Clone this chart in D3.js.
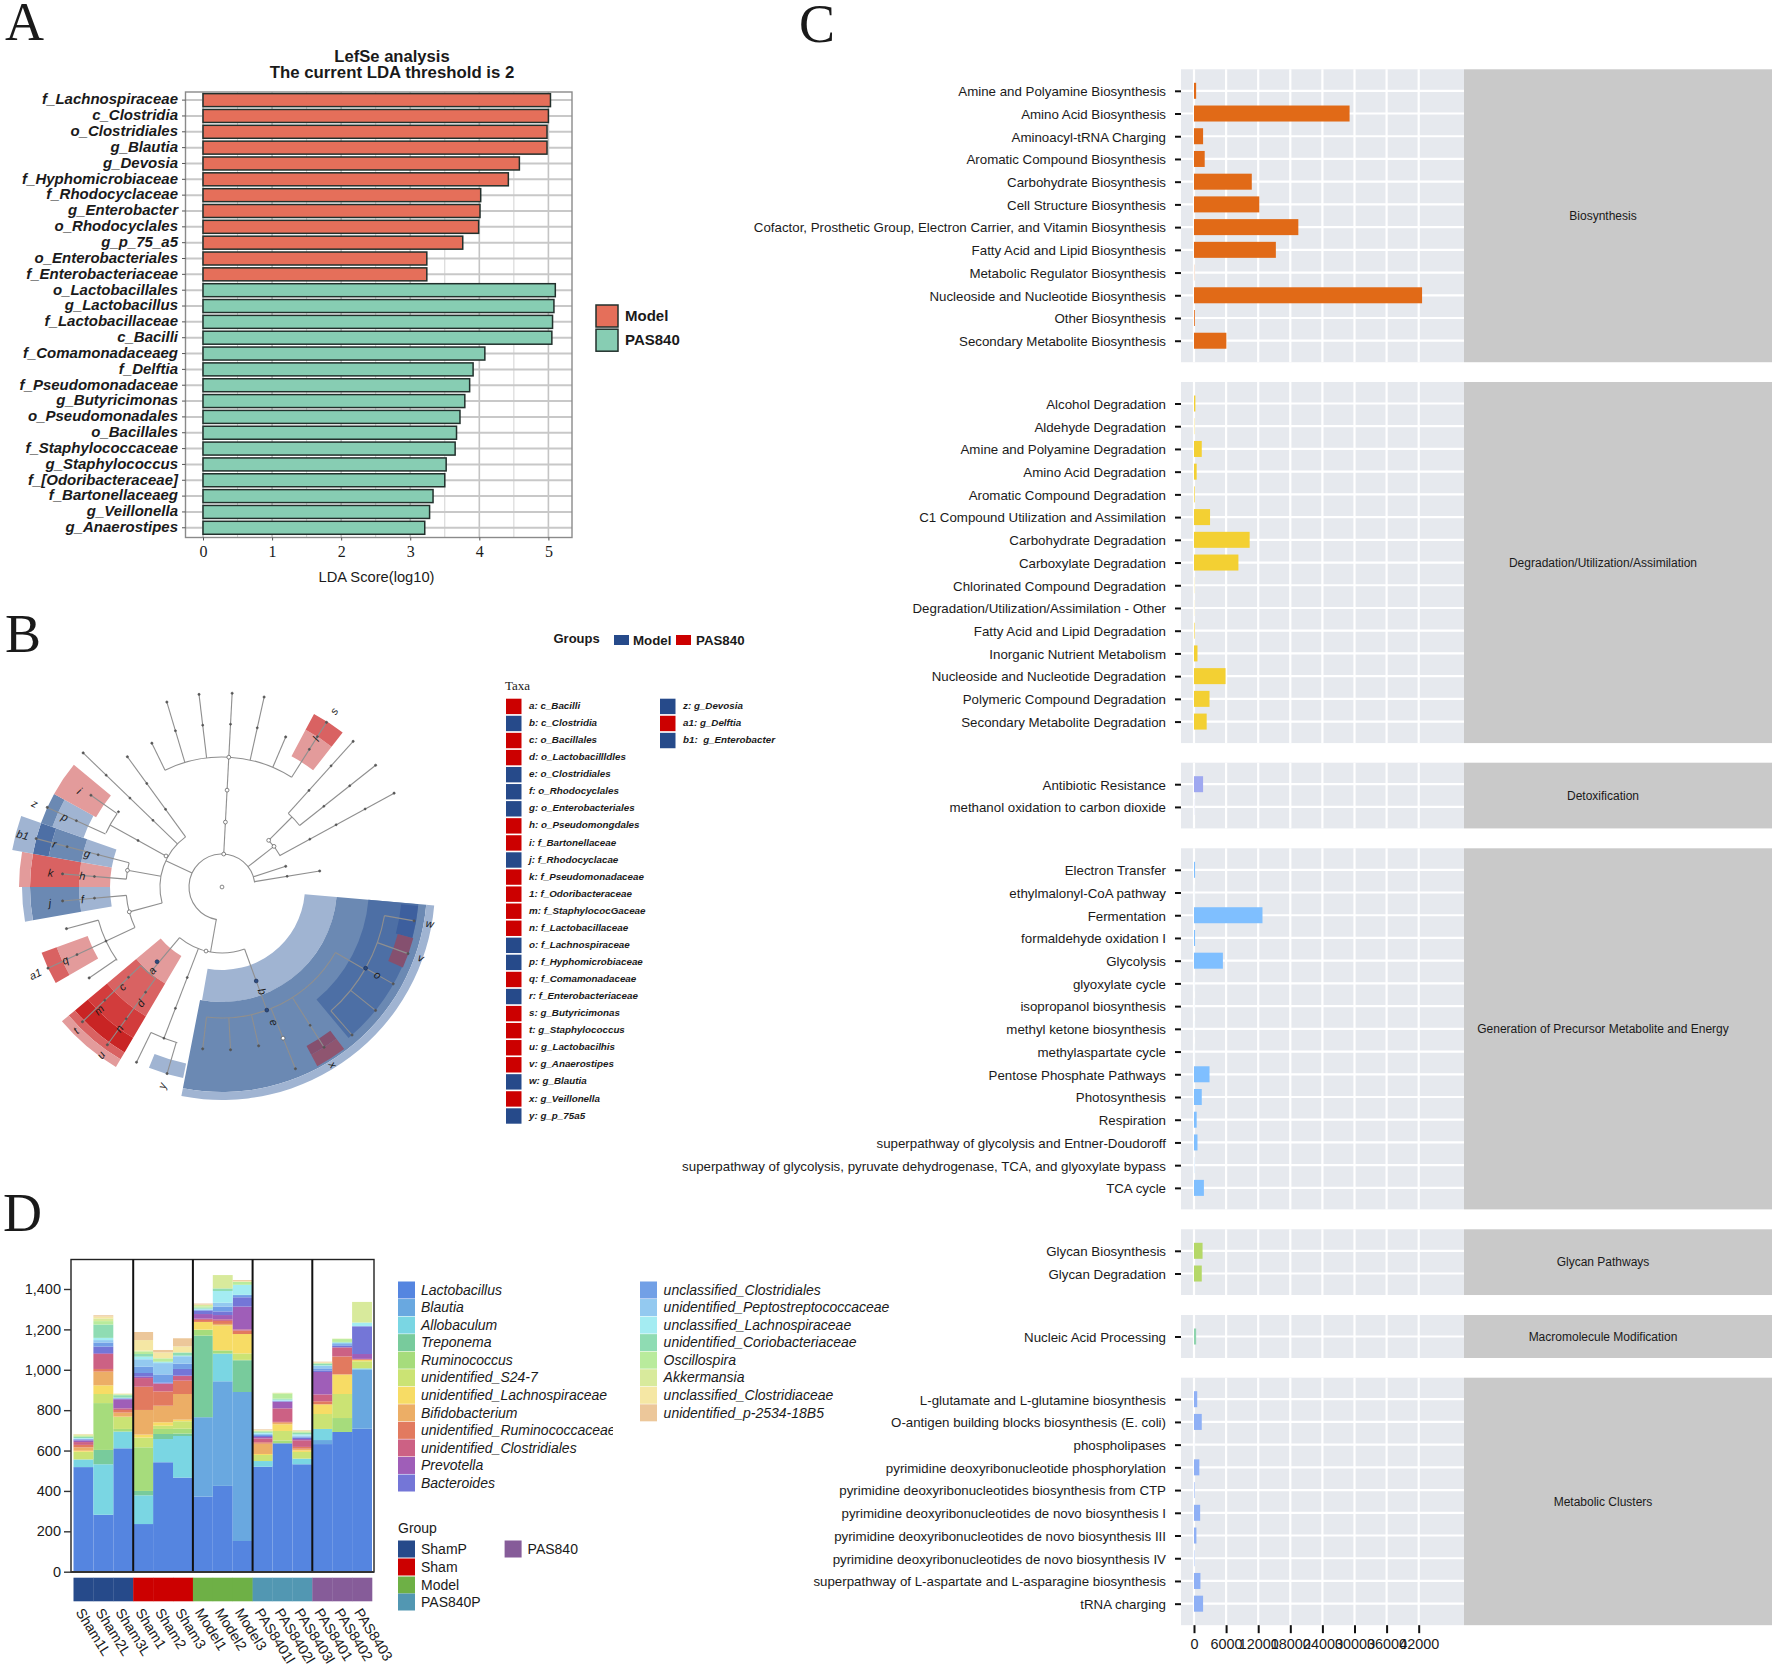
<!DOCTYPE html>
<html><head><meta charset="utf-8">
<script src="https://cdnjs.cloudflare.com/ajax/libs/d3/7.8.5/d3.min.js"></script>
<style>
html,body{margin:0;padding:0;background:#fff}
text{font-family:"Liberation Sans",Arial,sans-serif;fill:#1a1a1a}
.serif{font-family:"Liberation Serif",serif}
</style></head><body><svg id="c" width="1772" height="1668" viewBox="0 0 1772 1668"></svg>
<script>
// ---------- Panel A data ----------
const ldaTaxa=["f_Lachnospiraceae","c_Clostridia","o_Clostridiales","g_Blautia","g_Devosia","f_Hyphomicrobiaceae","f_Rhodocyclaceae","g_Enterobacter","o_Rhodocyclales","g_p_75_a5","o_Enterobacteriales","f_Enterobacteriaceae","o_Lactobacillales","g_Lactobacillus","f_Lactobacillaceae","c_Bacilli","f_Comamonadaceaeg","f_Delftia","f_Pseudomonadaceae","g_Butyricimonas","o_Pseudomonadales","o_Bacillales","f_Staphylococcaceae","g_Staphylococcus","f_[Odoribacteraceae]","f_Bartonellaceaeg","g_Veillonella","g_Anaerostipes"];
const ldaScores=[5.03,5.0,4.98,4.98,4.58,4.42,4.02,4.01,3.99,3.76,3.24,3.24,5.10,5.08,5.06,5.05,4.08,3.91,3.86,3.79,3.72,3.67,3.65,3.52,3.5,3.33,3.28,3.21];
const ldaModelCount=12;
const ldaGroups=["Model","PAS840"];
// ---------- Panel B data (angle clockwise from east in degrees, radius in ring units) ----------
const cladeSectors=[ // a0,a1,r0,r1,tone
[5,100,83,115,"bl"],[5,101,115,205,"bm"],[5,101,205,213,"bl"],[5,50,147,197,"bd"],[5.5,15,180,197,"bx"],[15,24,182,198,"pu"],[53,62,180,190,"pu"],[53,62,190,203,"pv"],
[101.5,112,180,195,"bl"],
[120.5,140,80,112,"rl"],[120.5,140,112,150,"rm"],[120.5,140,150,175,"rd"],[120.5,140,175,192,"rx"],[120.5,140,192,200,"rm"],[120.5,140,200,209,"rl"],
[150,160,143,176,"rl"],[150,160,176,192,"rm"],
[170,180,112,143,"bl"],[170,180,143,192,"bm"],[170,180,192,200,"bl"],
[180,190,112,143,"rl"],[180,190,143,192,"rm"],[180,190,192,203,"rl"],
[190,199.5,112,143,"bl"],[190,199.5,143,176,"bm"],[190,199.5,176,192,"bd"],[190,199.5,192,213,"bl"],
[199.5,209,147,180,"bl"],[199.5,209,180,192,"bm"],
[209,219.5,144,192,"rl"],
[-62,-52,148,178,"rl"],[-62,-52,178,196,"rm"]];
const cladeTones={bl:"#a0b4d2",bm:"#6b89b3",bd:"#4d6fa5",bx:"#3d5f9e",pu:"#85506f",pv:"#8f5570",rl:"#e39b9b",rm:"#d96262",rd:"#d23c3c",rx:"#c92424"};
const cladeArcs=[[33,99,352],[130,-116,-57.6],[66,-46,-28],[99,-48,-38.4],[62,165,234],[128,205,215],[96,184.7,194.6],[96,155,175],[128,145,165],[66,70,130],[113,126,136],[162,106,116],[131,30,96.8],[165,10,48.7]];
const cladeRadials=[[-87,33,194,1],[-116,130,160,1],[-106.6,130,193,1],[-96.8,130,194,1],[-77.5,130,194.6,1],[-67,130,163,1],[-57.6,130,195,1],[-38,33,66,0],[-28.6,66,196,1],[-45,66,99,0],[-48,99,196,1],[-38.4,99,196,1],[-18,33,67,1],[-9.3,33,99,1],[205,33,62,0],[234,62,161,1],[224,62,193,1],[209,62,128,0],[215,128,160,1],[204.5,128,192,1],[190,62,96,0],[194.6,96,192,1],[184.7,96,160,1],[165,62,96,0],[175,96,160,1],[155,96,192,1],[165,128,161,1],[145.6,128,161,1],[100,33,66,0],[130,66,113,0],[136,113,194,1],[126,113,195,1],[111,66,162,0],[116,162,195,1],[106.4,162,194.5,1],[70,66,131,0],[96.8,131,163,1],[87,131,163,1],[77,131,163,1],[68,131,196,1],[57.5,131,190,1],[30,131,165,0],[10,165,195,1],[19.7,165,197.6,1],[29.5,165,196.7,1],[38.8,165,197,1],[48.7,165,197,1]];
const cladeHollow=[[0,0],[-87,33],[-87,65],[-87,97],[-87,130],[-38,66],[-45,66],[190,96],[165,96],[209,64],[104,66],[68,163]];
const cladeDots=[[-106.6,163],[-96.8,163],[-87,163],[-77.5,163],[-57.6,163],[-57.6,178],[-28.6,100],[-28.6,130],[-28.6,163],[-48,130],[-48,163],[-38.4,130],[-38.4,163],[-9.3,66],[224,96],[224,128],[224,161],[234,96],[234,128],[209,96],[204.5,160],[194.6,128],[194.6,160],[184.7,128],[175,128],[155,128],[155,160],[216,128],[111,97],[111,130],[111,162],[136,130],[136,163],[126,130],[126,163],[57.5,164]];
const cladeBigDots=[[131,99],[70,100],[70,131],[29.5,165]];
const cladeLabels=[["a",130,109],["t",135.5,205],["u",125.8,207],["c",135,141],["d",125,142],["m",135,174],["n",126,175],["h",184.5,140],["k",184.7,172],["j",174.7,173],["f",175,140],["g",194,139],["r",194.4,173],["b1",194.6,206],["z",204,205],["p",204,172],["i",214,172],["q",155,173],["a1",155,206],["s",-57.5,208.6],["l",-57.6,175],["y",106.8,207.6],["x",58,209.6],["w",10,211],["v",19.6,211],["o",29.5,178.7],["e",69,145],["b",69,112]];
const taxaCol1=["a: c_Bacilli","b: c_Clostridia","c: o_Bacillales","d: o_Lactobacillldles","e: o_Clostridiales","f: o_Rhodocyclales","g: o_Enterobacteriales","h: o_Pseudomongdales","i: f_Bartonellaceae","j: f_Rhodocyclacae","k: f_Pseudomonadaceae","1: f_Odoribacteraceae","m: f_StaphylococGaceae","n: f_Lactobacillaceae","o: f_Lachnospiraceae","p: f_Hyphomicrobiaceae","q: f_Comamonadaceae","r: f_Enterobacteriaceae","s: g_Butyricimonas","t: g_Staphylococcus","u: g_Lactobacilhis","v: g_Anaerostipes","w: g_Blautia","x: g_Veillonella","y: g_p_75a5"];
const taxaCol1Group=[1,0,1,1,0,0,0,1,1,0,1,1,1,1,0,0,1,0,1,1,1,1,0,1,0];
const taxaCol2=["z: g_Devosia","a1: g_Delftia","b1:  g_Enterobacter"];
const taxaCol2Group=[0,1,0];
// ---------- Panel C data ----------
const pathwayFacets=[
{name:"Biosynthesis",color:"#e16a17",labels:["Amine and Polyamine Biosynthesis","Amino Acid Biosynthesis","Aminoacyl-tRNA Charging","Aromatic Compound Biosynthesis","Carbohydrate Biosynthesis","Cell Structure Biosynthesis","Cofactor, Prosthetic Group, Electron Carrier, and Vitamin Biosynthesis","Fatty Acid and Lipid Biosynthesis","Metabolic Regulator Biosynthesis","Nucleoside and Nucleotide Biosynthesis","Other Biosynthesis","Secondary Metabolite Biosynthesis"],values:[400,29080,1700,2000,10800,12200,19500,15300,30,42630,150,6050]},
{name:"Degradation/Utilization/Assimilation",color:"#f3d033",labels:["Alcohol Degradation","Aldehyde Degradation","Amine and Polyamine Degradation","Amino Acid Degradation","Aromatic Compound Degradation","C1 Compound Utilization and Assimilation","Carbohydrate Degradation","Carboxylate Degradation","Chlorinated Compound Degradation","Degradation/Utilization/Assimilation - Other","Fatty Acid and Lipid Degradation","Inorganic Nutrient Metabolism","Nucleoside and Nucleotide Degradation","Polymeric Compound Degradation","Secondary Metabolite Degradation"],values:[260,50,1450,500,120,3000,10400,8300,30,20,100,650,5900,2900,2370]},
{name:"Detoxification",color:"#9fa8f0",labels:["Antibiotic Resistance","methanol oxidation to carbon dioxide"],values:[1700,20]},
{name:"Generation of Precursor Metabolite and Energy",color:"#7fbfff",labels:["Electron Transfer","ethylmalonyl-CoA pathway","Fermentation","formaldehyde oxidation I","Glycolysis","glyoxylate cycle","isopropanol biosynthesis","methyl ketone biosynthesis","methylaspartate cycle","Pentose Phosphate Pathways","Photosynthesis","Respiration","superpathway of glycolysis and Entner-Doudoroff","superpathway of glycolysis, pyruvate dehydrogenase, TCA, and glyoxylate bypass","TCA cycle"],values:[200,10,12800,200,5400,10,10,10,10,2900,1450,500,650,30,1850]},
{name:"Glycan Pathways",color:"#b5d868",labels:["Glycan Biosynthesis","Glycan Degradation"],values:[1600,1450]},
{name:"Macromolecule Modification",color:"#8fd4ae",labels:["Nucleic Acid Processing"],values:[400]},
{name:"Metabolic Clusters",color:"#8fb0f5",labels:["L-glutamate and L-glutamine biosynthesis","O-antigen building blocks biosynthesis (E. coli)","phospholipases","pyrimidine deoxyribonucleotide phosphorylation","pyrimidine deoxyribonucleotides biosynthesis from CTP","pyrimidine deoxyribonucleotides de novo biosynthesis I","pyrimidine deoxyribonucleotides de novo biosynthesis III","pyrimidine deoxyribonucleotides de novo biosynthesis IV","superpathway of L-aspartate and L-asparagine biosynthesis","tRNA charging"],values:[600,1450,10,1000,100,1150,450,70,1200,1700]}];
const pathwayTicks=[0,6000,12000,18000,24000,30000,36000,42000];
// ---------- Panel D data ----------
const samples=["Sham1L","Sham2L","Sham3L","Sham1","Sham2","Sham3","Model1","Model2","Model3","PAS8401l","PAS8402l","PAS8403l","PAS8401","PAS8402","PAS8403"];
const sampleGroup=[0,0,0,1,1,1,2,2,2,3,3,3,4,4,4];
const groupNames=["ShamP","Sham","Model","PAS840P","PAS840"];
const groupColors=["#264a8a","#cc0000","#6eb046","#5297b2","#865c99"];
const genera=["Lactobacillus","Blautia","Allobaculum","Treponema","Ruminococcus","unidentified_S24-7","unidentified_Lachnospiraceae","Bifidobacterium","unidentified_Ruminococcaceae","unidentified_Clostridiales","Prevotella","Bacteroides","unclassified_Clostridiales","unidentified_Peptostreptococcaceae","unclassified_Lachnospiraceae","unidentified_Coriobacteriaceae","Oscillospira","Akkermansia","unclassified_Clostridiaceae","unidentified_p-2534-18B5"];
const generaColors=["#5585e0","#69a8e0","#7ad6e3","#78cb9c","#a6dc7c","#cbe374","#f7dc65","#ecae66","#e27a5f","#cc6184","#9f5eb8","#7476d7","#72a0e6","#93c9f0","#a4ecf2","#8fdcb3","#b9eb9c","#d8ea9c","#f5e7a4","#ecc79a"];
const abundance=[ // one row per sample, in genus order
[518,0,38,0,0,38,5,17,12,14,8,4,3,2,3,6,5,6,2,1],
[282,0,250,71,232,45,43,68,13,74,4,33,20,12,11,66,17,13,10,6],
[611,0,83,0,13,59,2,20,13,8,45,3,2,1,2,12,3,3,2,0],
[236,0,142,22,216,48,15,122,115,43,7,18,31,37,13,13,13,4,52,40],
[542,0,115,25,25,16,17,82,71,38,2,3,41,56,5,3,15,2,28,12],
[466,0,206,12,24,37,8,127,66,23,2,33,26,37,3,15,1,1,29,40],
[372,393,0,404,28,2,38,0,10,6,23,17,3,3,4,5,6,7,2,5],
[425,518,137,0,16,0,124,7,15,8,21,18,24,19,58,13,0,66,0,0],
[152,738,0,157,2,32,96,0,17,6,113,46,11,1,49,1,15,0,3,5],
[520,0,28,0,0,30,5,51,7,19,7,5,5,6,5,5,5,0,4,3],
[636,0,0,0,14,47,33,8,4,67,33,2,2,2,4,5,25,4,0,0],
[532,0,28,0,0,33,8,8,9,33,6,7,5,5,6,8,7,0,4,2],
[632,20,55,0,0,74,48,0,15,34,111,8,10,12,3,8,3,1,3,3],
[692,0,0,0,69,119,97,0,89,45,0,8,8,6,2,3,14,2,0,0],
[708,294,5,0,0,35,6,0,4,2,24,137,1,1,16,1,1,101,0,0]];

const svg=d3.select("#c");
svg.append("rect").attr("width",1772).attr("height",1668).attr("fill","#fff");
const letters=[["A",5,39.5],["B",5,652],["C",799,42],["D",3,1231]];
svg.selectAll(".pl").data(letters).join("text").attr("class","serif").attr("x",d=>d[1]).attr("y",d=>d[2]).attr("font-size",54).text(d=>d[0]);

// ======== Panel A ========
(function(){
 const g=svg.append("g");
 const frame={l:185.5,r:572,t:92,b:537.5};
 const x=d3.scaleLinear().domain([0,5]).range([203,548.4]);
 const y=d3.scaleBand().domain(ldaTaxa).range([92.2,535.7]).paddingInner(0.18).paddingOuter(0.09);
 const cy=t=>y(t)+y.bandwidth()/2;
 const minor=d3.range(0,5.5,0.5);
 g.selectAll(".v").data(minor).join("line").attr("x1",x).attr("x2",x).attr("y1",frame.t).attr("y2",frame.b).attr("stroke",d=>Number.isInteger(d)?"#c4c4c4":"#d2d2d2").attr("stroke-width",d=>Number.isInteger(d)?1.6:1);
 g.selectAll(".h").data(ldaTaxa).join("line").attr("x1",frame.l).attr("x2",frame.r).attr("y1",cy).attr("y2",cy).attr("stroke","#c8c8c8").attr("stroke-width",2);
 const col=i=>i<ldaModelCount?"#e56f5a":"#87cdb3";
 g.selectAll(".b").data(ldaTaxa).join("rect").attr("x",x(0)).attr("y",d=>y(d)).attr("width",(d,i)=>x(ldaScores[i])-x(0)).attr("height",y.bandwidth()).attr("fill",(d,i)=>col(i)).attr("stroke","#22302c").attr("stroke-width",1.5);
 g.append("rect").attr("x",frame.l).attr("y",frame.t).attr("width",frame.r-frame.l).attr("height",frame.b-frame.t).attr("fill","none").attr("stroke","#8a8a8a").attr("stroke-width",1.4);
 const ax=g.append("g").attr("transform",`translate(${frame.l},0)`).call(d3.axisLeft(y).tickSize(3.5).tickPadding(4));
 ax.select(".domain").remove();
 ax.selectAll("line").attr("stroke","#555");
 ax.selectAll("text").attr("font-family","Liberation Sans").attr("font-size",15).attr("font-weight","bold").attr("font-style","italic").attr("fill","#1a1a1a").attr("y",-0.5);
 const bx=g.append("g").attr("transform",`translate(0,${frame.b})`).call(d3.axisBottom(x).tickValues([0,1,2,3,4,5]).tickFormat(d3.format("d")).tickSize(3).tickPadding(5));
 bx.select(".domain").remove();
 bx.selectAll("line").attr("stroke","#555");
 bx.selectAll("text").attr("class","serif").attr("font-family","Liberation Serif").attr("font-size",16).attr("fill","#1a1a1a");
 g.append("text").attr("x",376.5).attr("y",582).attr("text-anchor","middle").attr("font-size",14.7).text("LDA Score(log10)");
 g.append("text").attr("x",392).attr("y",62).attr("text-anchor","middle").attr("font-size",16.6).attr("font-weight","bold").text("LefSe analysis");
 g.append("text").attr("x",392).attr("y",77.5).attr("text-anchor","middle").attr("font-size",16.8).attr("font-weight","bold").text("The current LDA threshold is 2");
 ldaGroups.forEach((n,i)=>{
  g.append("rect").attr("x",596).attr("y",305+i*24.2).attr("width",22).attr("height",22).attr("fill",i?"#87cdb3":"#e56f5a").attr("stroke","#22302c").attr("stroke-width",1.5);
  g.append("text").attr("x",625).attr("y",321+i*24.2).attr("font-size",15).attr("font-weight","bold").text(n);
 });
})();

// ======== Panel B ========
(function(){
 const cx=222,cy=887;
 const g=svg.append("g").attr("transform",`translate(${cx},${cy})`);
 const rad=d=>(d+90)*Math.PI/180;
 const arc=d3.arc();
 g.selectAll(".s").data(cladeSectors).join("path").attr("d",d=>arc({innerRadius:d[2],outerRadius:d[3],startAngle:rad(d[0]),endAngle:rad(d[1])})).attr("fill",d=>cladeTones[d[4]]);
 const pol=(a,r)=>{const t=a*Math.PI/180;return [r*Math.cos(t),r*Math.sin(t)]};
 g.selectAll(".a").data(cladeArcs).join("path").attr("d",d=>arc({innerRadius:d[0],outerRadius:d[0],startAngle:rad(d[1]),endAngle:rad(d[2])})).attr("fill","none").attr("stroke","#8f8f8f").attr("stroke-width",1.1);
 g.selectAll(".r").data(cladeRadials).join("line").each(function(d){const p=pol(d[0],d[1]),q=pol(d[0],d[2]);d3.select(this).attr("x1",p[0]).attr("y1",p[1]).attr("x2",q[0]).attr("y2",q[1])}).attr("stroke","#8f8f8f").attr("stroke-width",1.1);
 const tips=cladeRadials.filter(d=>d[3]).map(d=>[d[0],d[2]]);
 const dot=(data,r,fill,stroke)=>g.selectAll(null).data(data).join("circle").attr("cx",d=>pol(d[0],d[1])[0]).attr("cy",d=>pol(d[0],d[1])[1]).attr("r",r).attr("fill",fill).attr("stroke",stroke).attr("stroke-width",0.7);
 dot(tips,1.1,"#555","#555");dot(cladeDots,1,"#555","#555");dot(cladeBigDots,1.9,"#2b4a80","#1c2f55");dot(cladeHollow,1.9,"#fff","#555");
 g.selectAll(".t").data(cladeLabels).join("text").attr("transform",d=>{const p=pol(d[1],d[2]);const rot=(d[1]>90||d[1]<-90)?d[1]-180:d[1];return `translate(${p[0]},${p[1]}) rotate(${rot})`}).attr("text-anchor","middle").attr("dy","0.35em").attr("font-size",11).attr("font-style","italic").attr("fill","#222").text(d=>d[0]);
 const L=svg.append("g");
 L.append("text").attr("x",553.5).attr("y",643).attr("font-size",13).attr("font-weight","bold").text("Groups");
 [["Model",614,633,"#264a8a"],["PAS840",676,696,"#cc0000"]].forEach(d=>{
  L.append("rect").attr("x",d[1]).attr("y",635).attr("width",15).attr("height",10).attr("fill",d[3]);
  L.append("text").attr("x",d[2]).attr("y",644.5).attr("font-size",13.3).attr("font-weight","bold").text(d[0]);
 });
 L.append("text").attr("class","serif").attr("x",505).attr("y",690).attr("font-size",13).text("Taxa");
 const rows=d3.scaleLinear().domain([0,24]).range([706.4,1116]);
 const tc=["#264a8a","#cc0000"];
 const col=(names,grp,sx,tx)=>{
  L.selectAll(null).data(names).join("rect").attr("x",sx).attr("y",(d,i)=>rows(i)-7.7).attr("width",15.5).attr("height",15.4).attr("fill",(d,i)=>tc[grp[i]]);
  L.selectAll(null).data(names).join("text").attr("x",tx).attr("y",(d,i)=>rows(i)+2.6).attr("font-size",9.8).attr("font-weight","bold").attr("font-style","italic").attr("xml:space","preserve").text(d=>d);
 };
 col(taxaCol1,taxaCol1Group,506,529);
 col(taxaCol2,taxaCol2Group,660,683);
})();

// ======== Panel C ========
(function(){
 const g=svg.append("g");
 const x=d3.scaleLinear().domain([0,42000]).range([1194,1418.7]);
 const left=1181,right=1464,stripR=1772;
 const tops=[69.3,382,762.7,848.3,1229.3,1315,1377.7];
 const rowStep=22.72,pad=21.5;
 let last=0;
 pathwayFacets.forEach((f,k)=>{
  const top=tops[k],h=(f.labels.length-1)*rowStep+pad*2,bot=top+h;last=bot;
  const y=d3.scalePoint().domain(f.labels).range([top+pad,bot-pad]);
  g.append("rect").attr("x",left).attr("y",top).attr("width",right-left).attr("height",h).attr("fill","#e6e9ee");
  g.append("rect").attr("x",right).attr("y",top).attr("width",stripR-right).attr("height",h).attr("fill","#c9c9c9");
  g.selectAll(null).data(pathwayTicks).join("line").attr("x1",x).attr("x2",x).attr("y1",top).attr("y2",bot).attr("stroke","#fff").attr("stroke-width",2.2);
  g.selectAll(null).data(f.labels).join("line").attr("x1",left).attr("x2",right).attr("y1",d=>y(d)).attr("y2",d=>y(d)).attr("stroke","#fff").attr("stroke-width",2.2);
  g.selectAll(null).data(f.labels).join("rect").attr("x",x(0)).attr("y",d=>(y(d)||0)-8).attr("width",(d,i)=>x(f.values[i])-x(0)).attr("height",16).attr("fill",f.color);
  const ax=g.append("g").attr("transform",`translate(${left},0)`).call(d3.axisLeft(y).tickSize(6).tickPadding(9));
  ax.select(".domain").remove();
  ax.selectAll("line").attr("stroke","#111").attr("stroke-width",2);
  ax.selectAll("text").attr("font-family","Liberation Sans").attr("font-size",13.3).attr("fill","#1a1a1a").attr("y",0.6);
  g.append("text").attr("x",1603).attr("y",top+h/2).attr("dy","0.35em").attr("text-anchor","middle").attr("font-size",12).text(f.name);
 });
 const bx=g.append("g").attr("transform",`translate(0,${last})`).call(d3.axisBottom(x).tickValues(pathwayTicks).tickFormat(d3.format("d")).tickSize(8).tickPadding(6));
 bx.select(".domain").remove();
 bx.selectAll("line").attr("stroke","#111").attr("stroke-width",2);
 bx.selectAll("text").attr("font-family","Liberation Sans").attr("font-size",14.4).attr("fill","#1a1a1a");
})();

// ======== Panel D ========
(function(){
 const g=svg.append("g");
 const x=d3.scaleBand().domain(samples).range([73.5,372]);
 const y=d3.scaleLinear().domain([0,1400]).range([1571.7,1289]);
 const rows=samples.map((s,i)=>{const o={sample:s};genera.forEach((n,j)=>o[n]=abundance[i][j]);return o});
 const stack=d3.stack().keys(genera)(rows);
 g.selectAll(".ly").data(stack).join("g").attr("fill",(d,i)=>generaColors[i]).selectAll("rect").data(d=>d).join("rect")
  .attr("x",d=>x(d.data.sample)).attr("width",x.bandwidth()).attr("y",d=>y(d[1])).attr("height",d=>y(d[0])-y(d[1]));
 g.selectAll(".strip").data(samples).join("rect").attr("x",d=>x(d)).attr("width",x.bandwidth()+0.3).attr("y",1577.7).attr("height",23.6).attr("fill",(d,i)=>groupColors[sampleGroup[i]]);
 g.append("rect").attr("x",71).attr("y",1259.5).attr("width",303).attr("height",312.5).attr("fill","none").attr("stroke","#222").attr("stroke-width",1.4);
 const seps=[3,6,9,12].map(i=>x(samples[i]));
 g.selectAll(".sep").data(seps).join("line").attr("x1",d=>d).attr("x2",d=>d).attr("y1",1259.5).attr("y2",1572).attr("stroke","#111").attr("stroke-width",2);
 g.append("line").attr("x1",71).attr("x2",374).attr("y1",1572).attr("y2",1572).attr("stroke","#333").attr("stroke-width",2);
 const ax=g.append("g").attr("transform","translate(71,0)").call(d3.axisLeft(y).tickValues(d3.range(0,1401,200)).tickFormat(d3.format(",")).tickSize(7).tickPadding(3));
 ax.select(".domain").remove();
 ax.selectAll("line").attr("stroke","#333").attr("stroke-width",1.4);
 ax.selectAll("text").attr("font-family","Liberation Sans").attr("font-size",14.5).attr("fill","#1a1a1a");
 const bx=g.append("g").attr("transform","translate(-4,1609.5)").call(d3.axisBottom(x).tickSize(0).tickPadding(0));
 bx.select(".domain").remove();
 bx.selectAll("text").attr("font-family","Liberation Sans").attr("font-size",14.2).attr("fill","#1a1a1a").attr("text-anchor","start").attr("transform","rotate(58)").attr("dy","0.35em").attr("y",0);
 svg.append("clipPath").attr("id","legclip").append("rect").attr("x",390).attr("y",1270).attr("width",223).attr("height",320);
 const ly=d3.scaleLinear().domain([0,11]).range([1290,1483]);
 const leg=svg.append("g");
 const col1=leg.append("g").attr("clip-path","url(#legclip)");
 genera.forEach((n,i)=>{
  const c2=i>=12,row=c2?i-12:i,p=c2?leg:col1;
  p.append("rect").attr("x",c2?640:398).attr("y",ly(row)-8.5).attr("width",17).attr("height",17).attr("fill",generaColors[i]);
  p.append("text").attr("x",c2?663.6:421).attr("y",ly(row)+4.7).attr("font-size",14).attr("font-style","italic").text(n);
 });
 leg.append("text").attr("x",398).attr("y",1532.5).attr("font-size",14).text("Group");
 const gy=[1549,1567,1585,1602,1549],gx=[398,398,398,398,504.6];
 groupNames.forEach((n,i)=>{
  leg.append("rect").attr("x",gx[i]).attr("y",gy[i]-8.5).attr("width",17).attr("height",17).attr("fill",groupColors[i]);
  leg.append("text").attr("x",gx[i]+23).attr("y",gy[i]+5).attr("font-size",14).text(n);
 });
})();
</script></body></html>
